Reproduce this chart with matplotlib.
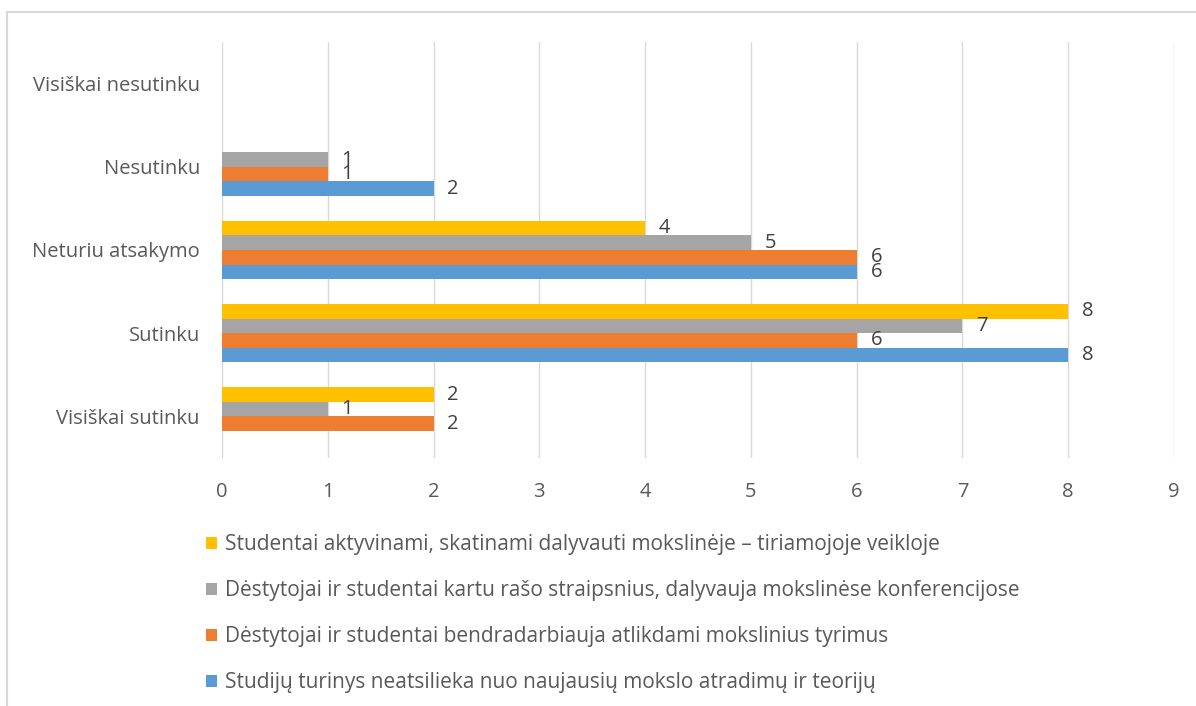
import numpy as np
import matplotlib.pyplot as plt
from matplotlib.patches import Rectangle

plt.rcParams['font.family'] = ['Open Sans', 'DejaVu Sans']

# kategorijos (iš apačios į viršų)
categories = ['Visiškai sutinku', 'Sutinku', 'Neturiu atsakymo', 'Nesutinku', 'Visiškai nesutinku']

series_names = [
    'Studijų turinys neatsilieka nuo naujausių mokslo atradimų ir teorijų',
    'Dėstytojai ir studentai bendradarbiauja atlikdami mokslinius tyrimus',
    'Dėstytojai ir studentai kartu rašo straipsnius, dalyvauja mokslinėse konferencijose',
    'Studentai aktyvinami, skatinami dalyvauti mokslinėje – tiriamojoje veikloje',
]
turinys = [None, 8, 6, 2, None]
tyrimai = [2, 6, 6, 1, None]
straipsniai = [1, 7, 5, 1, None]
aktyvinami = [2, 8, 4, None, None]

series = [turinys, tyrimai, straipsniai, aktyvinami]
colors = ['#5b9bd5', '#ed7d31', '#a5a5a5', '#ffc000']

fig = plt.figure(figsize=(11.96, 7.06), dpi=100)
ax = fig.add_axes([0.1856, 0.3513, 0.796, 0.5892])

fs = 14.5
h = 0.175
y = np.arange(len(categories))
bars = []
for i, (vals, col) in enumerate(zip(series, colors)):
    v = np.array([np.nan if x is None else x for x in vals], dtype=float)
    pos = y + (i - 1.5) * h
    b = ax.barh(pos, np.nan_to_num(v), height=h, color=col, zorder=3)
    bars.append(b)
    for p, val in zip(pos, v):
        if not np.isnan(val):
            ax.annotate(f'{int(val)}', (val, p), xytext=(10, 0), textcoords='offset points',
                        va='center', ha='left', fontsize=fs, color='#404040', zorder=4)

ax.set_xlim(0, 9)
ax.set_ylim(-0.5, 4.5)
ax.set_xticks(range(10))
ax.set_yticks(y)
ax.set_yticklabels(categories)
ax.grid(axis='x', color='#d9d9d9', linewidth=1, zorder=0)
for s in ax.spines.values():
    s.set_visible(False)
ax.tick_params(length=0, colors='#595959', labelsize=fs)
ax.tick_params(axis='x', pad=17)
ax.tick_params(axis='y', pad=16)

handles = [bars[3], bars[2], bars[1], bars[0]]
labels = [series_names[3], series_names[2], series_names[1], series_names[0]]
leg = fig.legend(handles, labels, loc='upper left', bbox_to_anchor=(0.165, 0.255),
                 frameon=False, fontsize=15, handlelength=0.53, handleheight=0.53,
                 handletextpad=0.4, labelspacing=1.2, borderaxespad=0)
for t in leg.get_texts():
    t.set_color('#595959')

fig.patches.append(Rectangle((7 / 1196, -0.1), 1.2, 1 - 12 / 706 + 0.1, transform=fig.transFigure,
                             fill=False, edgecolor='#d9d9d9', linewidth=1.5))

fig.savefig('out.png', dpi=100)
